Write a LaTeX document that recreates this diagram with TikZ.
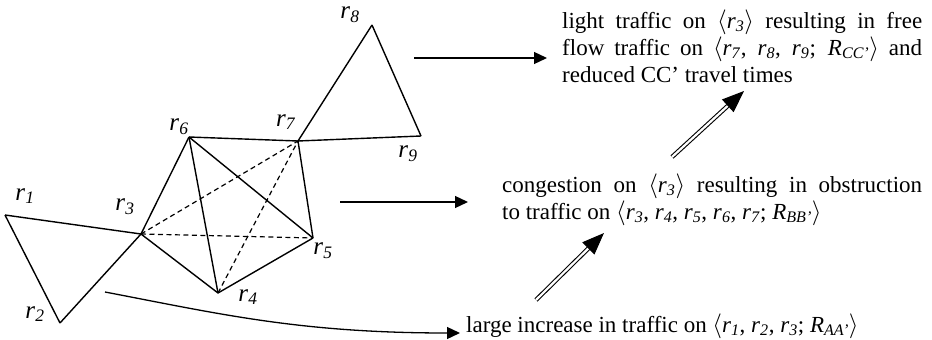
\documentclass[tikz,border=0pt]{standalone}
\usepackage{fontspec}
\setmainfont{Liberation Serif}
\usetikzlibrary{arrows.meta}
\newcommand{\rv}[1]{\textit{r}\textsubscript{\textit{#1}}}
\newcommand{\Rv}[1]{\textit{R}\textsubscript{\textit{#1}}}

\begin{document}
\begin{tikzpicture}[x=1pt, y=-1pt, >={Triangle[length=13pt,width=12pt]},
  edge/.style={line width=1.4pt, line join=round},
  link/.style={line width=1.2pt, dash pattern=on 5pt off 3.5pt},
  lbl/.style={font=\fontsize{25}{27}\selectfont, inner sep=0pt},
  note/.style={font=\fontsize{23}{27}\selectfont, inner sep=0pt, anchor=base west},
  flow/.style={line width=1.3pt, ->},
  fat/.style={double, double distance=2.2pt, line width=1.1pt, -{Triangle[length=22pt,width=17pt]}}]
\useasboundingbox (0,0) rectangle (932,340);

% road junctions
\coordinate (r1) at (5,215);
\coordinate (r2) at (60,323);
\coordinate (r3) at (141,234);
\coordinate (r4) at (218,293);
\coordinate (r5) at (313,238);
\coordinate (r6) at (189,137);
\coordinate (r7) at (298,141);
\coordinate (r8) at (372,25);
\coordinate (r9) at (421,136);

\foreach \a/\b in {r1/r2,r2/r3,r3/r1,r3/r6,r3/r4,r6/r7,r6/r4,r6/r5,r7/r5,r5/r4,r7/r8,r8/r9,r9/r7}
{
    \draw[edge](\a)--(\b);
}
\foreach \a/\b in {r3/r7,r3/r5,r4/r7}
{
    \draw[link](\a)--(\b);
}

\foreach \n/\x/\y in {1/25/196,2/35/314,3/125/207,4/248/297,5/323/251,6/179/127,7/286/122,8/350/15,9/408/154}
{
    \node[lbl](l\n) at (\x,\y){\rv{\n}};
}

% effects
\node[note, text width=360pt, align=justify](light) at (562,28)
{light traffic on $\langle$\rv{3}$\rangle$ resulting in free\linebreak
flow traffic on $\langle$\rv{7}, \rv{8}, \rv{9}; \Rv{CC’}$\rangle$ and\linebreak
reduced CC’ travel times};
\node[note, text width=420pt, align=justify](cong) at (502,192)
{congestion on $\langle$\rv{3}$\rangle$ resulting in obstruction\linebreak
to traffic on $\langle$\rv{3}, \rv{4}, \rv{5}, \rv{6}, \rv{7}; \Rv{BB’}$\rangle$};
\node[note](large) at (466,332)
{large increase in traffic on $\langle$\rv{1}, \rv{2}, \rv{3}; \Rv{AA’}$\rangle$};

\coordinate (a1) at (414,58);  \coordinate (b1) at (547,58);
\coordinate (a2) at (340,202); \coordinate (b2) at (468,202);
\coordinate (a3) at (105,292); \coordinate (b3) at (460,333);
\draw[flow](a1)--(b1);
\draw[flow](a2)--(b2);
\draw[flow](a3) .. controls (220,314) and (300,333) .. (b3);

\coordinate (d1) at (536,300); \coordinate (e1) at (604,233);
\coordinate (d2) at (672,157); \coordinate (e2) at (744,91);
\draw[fat](d1)--(e1);
\draw[fat](d2)--(e2);
\end{tikzpicture}
\end{document}
